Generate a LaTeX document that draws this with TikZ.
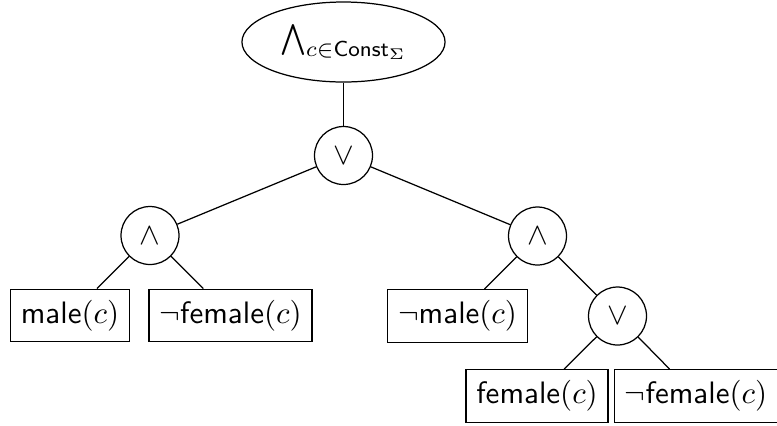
\documentclass[tikz,border=0pt]{standalone}
\usetikzlibrary{shapes.geometric}
\begin{document}
\begin{tikzpicture}[x=0.3225pt,y=-0.3225pt,
  opnode/.style={draw,circle,inner sep=0pt,minimum size=18.7pt},
  litnode/.style={draw,rectangle,inner sep=0.333em,minimum height=17pt},
  rootnode/.style={draw,ellipse,inner sep=0pt,minimum width=65.5pt,minimum height=25.8pt},
  font=\sffamily]
  \useasboundingbox (0,0) rectangle (777,425);
  % root and inner connectives
  \node[rootnode] (root) at (343.5,42) {$\bigwedge_{c\in\mathsf{Const}_\Sigma}$};
  \node[opnode] (or1) at (343.5,155.5) {$\vee$};
  \node[opnode] (and1) at (150,235.5) {$\wedge$};
  \node[opnode] (and2) at (537.5,236) {$\wedge$};
  \node[opnode] (or2) at (617.5,316) {$\vee$};
  % literals
  \node[litnode] (m1) at (70,315.5) {male$(c)$};
  \node[litnode] (nf1) at (230.5,315.5) {$\neg$female$(c)$};
  \node[litnode] (nm2) at (457.5,316) {$\neg$male$(c)$};
  \node[litnode] (f3) at (537,396) {female$(c)$};
  \node[litnode] (nf3) at (696,396) {$\neg$female$(c)$};
  % tree edges
  \draw (root) -- (or1);
  \draw (or1) -- (and1);
  \draw (or1) -- (and2);
  \draw (and1) -- (m1);
  \draw (and1) -- (nf1);
  \draw (and2) -- (nm2);
  \draw (and2) -- (or2);
  \draw (or2) -- (f3);
  \draw (or2) -- (nf3);
\end{tikzpicture}
\end{document}
